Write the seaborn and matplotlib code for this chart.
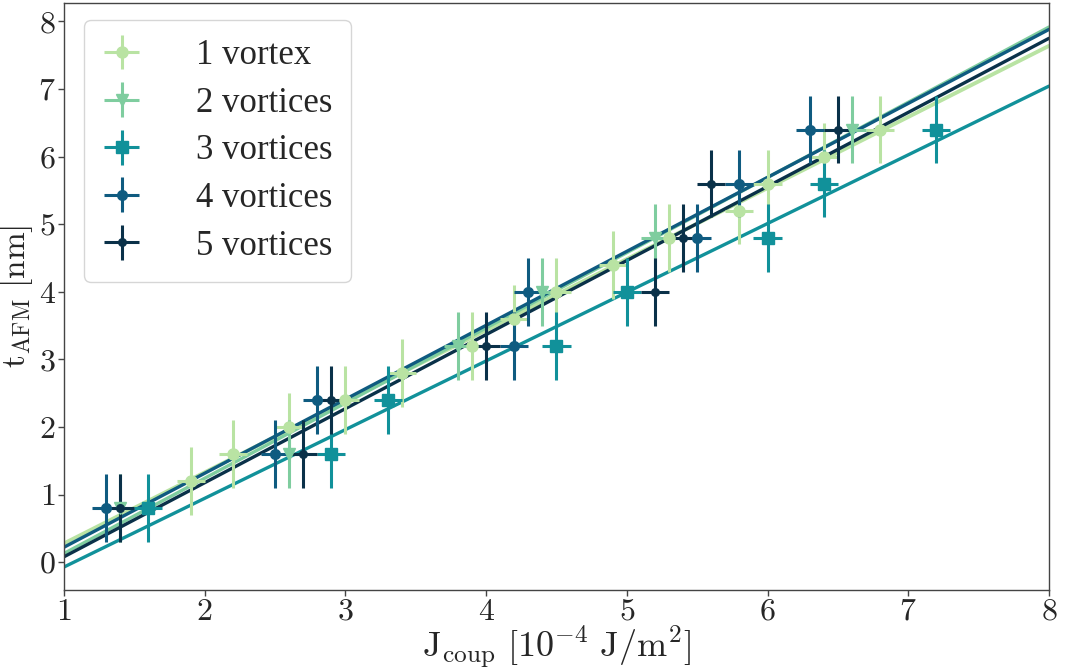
import numpy as np
import pandas as pd
import matplotlib
matplotlib.use("Agg")
import matplotlib.pyplot as plt
import seaborn as sns

# Measured coupling strength J_coup [1e-4 J/m^2] vs. AFM thickness t_AFM [nm]
labels = ["1 vortex", "2 vortices", "3 vortices", "4 vortices", "5 vortices"]

j_1 = [1.9, 2.2, 2.6, 3.0, 3.4, 3.9, 4.2, 4.5, 4.9, 5.3, 5.8, 6.0, 6.4, 6.8]
t_1 = [1.2, 1.6, 2.0, 2.4, 2.8, 3.2, 3.6, 4.0, 4.4, 4.8, 5.2, 5.6, 6.0, 6.4]

j_2 = [1.4, 2.6, 3.8, 4.4, 5.2, 6.6]
t_2 = [0.8, 1.6, 3.2, 4.0, 4.8, 6.4]

j_3 = [1.6, 2.9, 3.3, 4.5, 5.0, 6.0, 6.4, 7.2]
t_3 = [0.8, 1.6, 2.4, 3.2, 4.0, 4.8, 5.6, 6.4]

j_4 = [1.3, 2.5, 2.8, 4.2, 4.3, 5.5, 5.8, 6.3]
t_4 = [0.8, 1.6, 2.4, 3.2, 4.0, 4.8, 5.6, 6.4]

j_5 = [1.4, 2.7, 2.9, 4.0, 5.2, 5.4, 5.6, 6.5]
t_5 = [0.8, 1.6, 2.4, 3.2, 4.0, 4.8, 5.6, 6.4]

j_err = 0.1
t_err = 0.5

x_ticks = [1, 2, 3, 4, 5, 6, 7, 8]
y_ticks = [0, 1, 2, 3, 4, 5, 6, 7, 8]

colors = ["#b9e3a3", "#7fcd9f", "#11919a", "#0f5b80", "#0a3149"]
markers = ["o", "v", "s", "o", "o"]
msizes = [8, 8, 8, 7, 5.5]
fit_widths = [2.8, 2.4, 2.4, 2.4, 2.4]

sns.set_style("ticks")
plt.rcParams["font.family"] = ["cmr10"]
plt.rcParams["mathtext.fontset"] = "cm"
plt.rcParams["axes.formatter.use_mathtext"] = True
plt.rcParams["axes.unicode_minus"] = False

fig = plt.figure(figsize=(10.66, 6.70), dpi=100)
ax = fig.add_axes([0.060, 0.1194, 0.924, 0.876])
ax.set_xlim(1, 8)
ax.set_ylim(-0.41, 8.27)

series = [(j_1, t_1), (j_2, t_2), (j_3, t_3), (j_4, t_4), (j_5, t_5)]
handles = []
for (jx, ty), lab, c, m, ms, lw in zip(series, labels, colors, markers, msizes, fit_widths):
    df = pd.DataFrame({"J": jx, "t": ty})
    h = ax.errorbar(df["J"], df["t"], xerr=j_err, yerr=t_err, fmt=m, color=c,
                    ms=ms, elinewidth=2.2, capsize=0, label=lab, zorder=3)
    handles.append(h)
    sns.regplot(data=df, x="J", y="t", ax=ax, scatter=False, ci=None,
                truncate=False, color=c, line_kws={"lw": lw, "zorder": 2})

ax.set_xticks(x_ticks)
ax.set_yticks(y_ticks)
ax.tick_params(labelsize=23, length=4, width=1, color="#444444", pad=2)
for s in ax.spines.values():
    s.set_color("#444444")
    s.set_linewidth(1.0)

ax.set_xlabel(r"$\mathrm{J_{coup}\ [10^{-4}\ J/m^2]}$", fontsize=26)
ax.set_ylabel(r"$\mathrm{t_{AFM}\ [nm]}$", fontsize=24)
ax.xaxis.set_label_coords(0.5, -0.057)
ax.yaxis.set_label_coords(-0.029, 0.5)

leg = ax.legend(handles=handles, labels=labels, loc="upper left",
                bbox_to_anchor=(0.0203, 0.971), frameon=True, fancybox=True,
                prop={"family": "Liberation Serif", "size": 25},
                handlelength=1.07, handletextpad=1.6, labelspacing=0.42,
                borderpad=0.55, borderaxespad=0.0)
leg.get_frame().set_edgecolor("#cccccc")
leg.get_frame().set_linewidth(1.0)

fig.savefig("out.png", dpi=100)
